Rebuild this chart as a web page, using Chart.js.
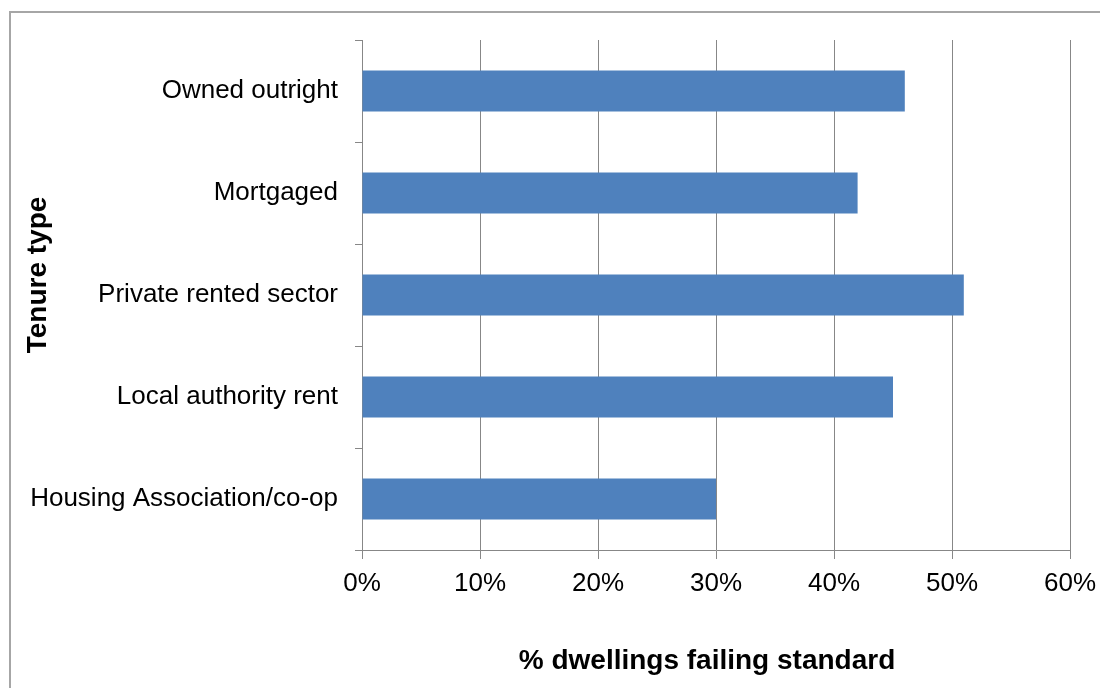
<!DOCTYPE html>
<html>
<head>
<meta charset="utf-8">
<script src="https://cdn.jsdelivr.net/npm/chart.js@4"></script>
<style>
  html, body { margin: 0; padding: 0; background: #fff; overflow: hidden; }
  #wrap { position: relative; width: 1100px; height: 688px; }
  #frame { position: absolute; left: 9px; top: 11px; width: 1200px; height: 800px; border: 2px solid #a6a6a6; box-sizing: border-box; }
  canvas { position: absolute; left: 0; top: 0; }
</style>
</head>
<body>
<div id="wrap">
  <div id="frame"></div>
  <canvas id="c" width="1100" height="688"></canvas>
</div>
<script>
const categories = ["Owned outright", "Mortgaged", "Private rented sector", "Local authority rent", "Housing Association/co-op"];
const values = [46, 42, 51, 45, 30];
const xTicks = [0, 10, 20, 30, 40, 50, 60];
const xTitle = "% dwellings failing standard";
const yTitle = "Tenure type";

const FONT = "'Liberation Sans', Arial, sans-serif";
const GRID = '#878787';

const axisTitles = {
  id: 'axisTitles',
  afterDraw(chart) {
    const ctx = chart.ctx;
    ctx.save();
    ctx.fillStyle = '#000';
    ctx.font = "bold 28px " + FONT;
    ctx.textAlign = 'center';
    ctx.textBaseline = 'middle';
    ctx.fillText(xTitle, 707, 661);
    ctx.translate(38, 275);
    ctx.rotate(-Math.PI / 2);
    ctx.fillText(yTitle, 0, 0);
    ctx.restore();
  }
};

new Chart(document.getElementById('c'), {
  type: 'bar',
  data: {
    labels: categories,
    datasets: [{
      data: values,
      backgroundColor: '#4f81bd',
      borderWidth: 0,
      barPercentage: 0.4,
      categoryPercentage: 1.0
    }]
  },
  plugins: [axisTitles],
  options: {
    indexAxis: 'y',
    responsive: false,
    animation: false,
    devicePixelRatio: 1,
    layout: { padding: { top: 40, right: 30, left: 0, bottom: 0 } },
    plugins: { legend: { display: false }, tooltip: { enabled: false } },
    scales: {
      x: {
        min: 0, max: 60,
        afterBuildTicks: (s) => { s.ticks = xTicks.map(v => ({ value: v })); },
        afterFit: (s) => { s.height = 138; s.paddingLeft = 0; s.paddingRight = 0; },
        ticks: {
          callback: (v) => v + '%',
          color: '#000',
          font: { family: FONT, size: 26 },
          padding: 9,
          maxRotation: 0
        },
        grid: { color: GRID, lineWidth: 1, tickLength: 9, drawTicks: true },
        border: { display: true, color: GRID, width: 1 }
      },
      y: {
        afterFit: (s) => { s.width = 362; s.paddingTop = 0; s.paddingBottom = 0; },
        ticks: {
          color: '#000',
          font: { family: FONT, size: 26 },
          padding: 17
        },
        grid: { color: GRID, lineWidth: 1, drawOnChartArea: false, tickLength: 7, offset: true },
        border: { display: true, color: GRID, width: 1 }
      }
    }
  }
});
</script>
</body>
</html>
